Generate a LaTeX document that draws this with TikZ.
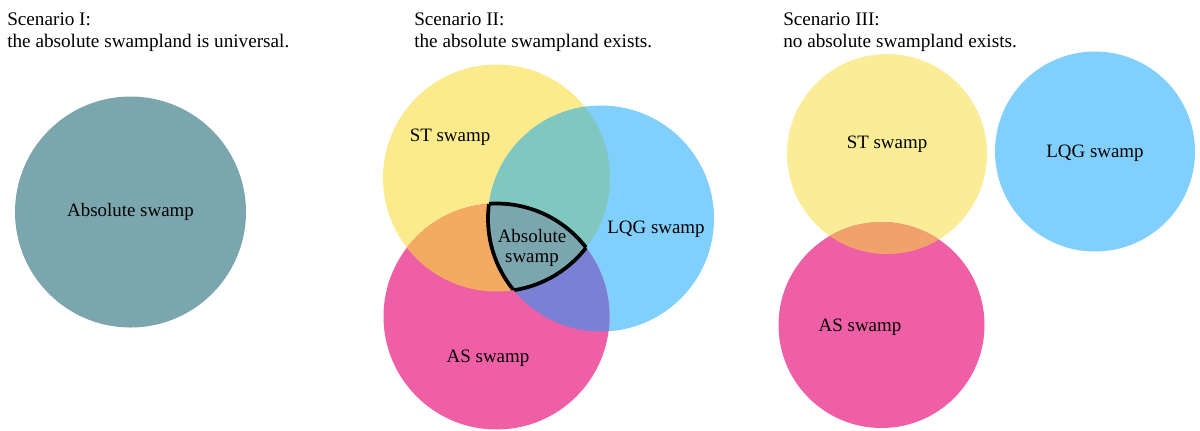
\documentclass[tikz,border=0pt]{standalone}
\usepackage{fontspec}
\setmainfont{Liberation Serif}
\usepackage{xcolor}
\usepackage{tikz}
\usetikzlibrary{positioning}
\definecolor{styellow}{RGB}{251,235,140}
\definecolor{lqgblue}{RGB}{128,207,253}
\definecolor{aspink}{RGB}{239,95,166}
\definecolor{stasorange}{RGB}{243,171,98}
\definecolor{stlqgteal}{RGB}{128,199,192}
\definecolor{lqgaspurple}{RGB}{122,128,212}
\definecolor{absgrey}{RGB}{123,166,174}
\definecolor{salmon}{RGB}{241,161,108}

\tikzset{
  heading/.style={anchor=base west, inner sep=0pt, font=\fontsize{14.4}{16.5}\selectfont},
  swamplabel/.style={inner sep=0pt, align=center, font=\fontsize{14.2}{15}\selectfont}
}

\begin{document}
\begin{tikzpicture}[x=0.75pt, y=-0.75pt]
    \useasboundingbox (0,0) rectangle (1200,430);

    % Scenario I
    \node[heading] (h1a) at (7,25) {Scenario I:};
    \node[heading] (h1b) at (7,47) {the absolute swampland is universal.};
    \fill[absgrey] (130.5,212) circle (115.5);
    \node[swamplabel] (abs1) at (130.5,212) {Absolute swamp};

    % Scenario II
    \node[heading] (h2a) at (414,25) {Scenario II:};
    \node[heading] (h2b) at (414,47) {the absolute swampland exists.};
    \def\st{(496.5,178) circle (113.5)}
    \def\lqg{(601,218.5) circle (113)}
    \def\as{(496.5,316.5) circle (113)}
    \fill[styellow] \st;
    \fill[lqgblue] \lqg;
    \fill[aspink] \as;
    \begin{scope}
        \clip \st;
        \fill[stlqgteal] \lqg;
        \fill[stasorange] \as;
    \end{scope}
    \begin{scope}
        \clip \lqg;
        \fill[lqgaspurple] \as;
    \end{scope}
    % the absolute swamp: all three at once
    \begin{scope}
        \clip \st;
        \clip \lqg;
        \fill[absgrey] \as;
        \draw[line width=2.8pt] \as;
    \end{scope}
    \begin{scope}
        \clip \st;
        \clip \as;
        \draw[line width=2.8pt] \lqg;
    \end{scope}
    \begin{scope}
        \clip \lqg;
        \clip \as;
        \draw[line width=2.8pt] \st;
    \end{scope}
    \node[swamplabel] (st2) at (450,137) {ST swamp};
    \node[swamplabel] (lqg2) at (656,229) {LQG swamp};
    \node[swamplabel] (as2) at (488,358) {AS swamp};
    \node[swamplabel] (abs2) at (532,248) {Absolute\\swamp};

    % Scenario III
    \node[heading] (h3a) at (783,25) {Scenario III:};
    \node[heading] (h3b) at (783,47) {no absolute swampland exists.};
    \fill[styellow!90!white] (887,154) circle (100);
    \fill[lqgblue] (1095,151.5) circle (100);
    \fill[aspink] (881.5,325) circle (103);
    \begin{scope}
        \clip (887,154) circle (100);
        \fill[salmon] (881.5,325) circle (103);
    \end{scope}
    \node[swamplabel] (st3) at (887,144) {ST swamp};
    \node[swamplabel] (lqg3) at (1095,153) {LQG swamp};
    \node[swamplabel] (as3) at (860,327) {AS swamp};
\end{tikzpicture}
\end{document}
